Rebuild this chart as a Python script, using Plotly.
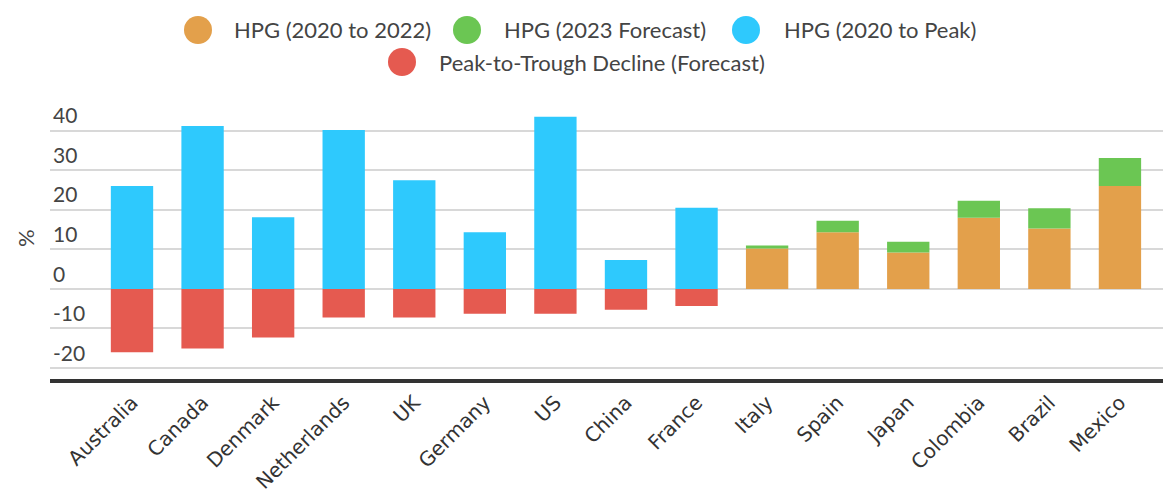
import plotly.graph_objects as go

# House price growth by country (%)
countries = ["Australia", "Canada", "Denmark", "Netherlands", "UK", "Germany", "US",
             "China", "France", "Italy", "Spain", "Japan", "Colombia", "Brazil", "Mexico"]
hpg_2020_to_peak = [26.0, 41.2, 18.1, 40.2, 27.5, 14.3, 43.5, 7.3, 20.5,
                    None, None, None, None, None, None]
peak_to_trough = [-16.0, -15.1, -12.3, -7.2, -7.2, -6.3, -6.3, -5.3, -4.3,
                  None, None, None, None, None, None]
hpg_2020_to_2022 = [None] * 9 + [10.2, 14.3, 9.2, 18.0, 15.3, 26.0]
hpg_2023_forecast = [None] * 9 + [0.8, 2.9, 2.7, 4.3, 5.1, 7.1]
y_ticks = [-20, -10, 0, 10, 20, 30, 40]
y_tick_labels = [str(v) for v in y_ticks]

ORANGE = "#E3A04B"
GREEN = "#6BC653"
BLUE = "#2EC9FD"
RED = "#E55A50"

series = [
    ("HPG (2020 to 2022)", hpg_2020_to_2022, ORANGE),
    ("HPG (2023 Forecast)", hpg_2023_forecast, GREEN),
    ("HPG (2020 to Peak)", hpg_2020_to_peak, BLUE),
    ("Peak-to-Trough Decline (Forecast)", peak_to_trough, RED),
]

W, H = 1163, 497
ML, MR, MT, MB = 50, 0, 90, 118
PW, PH = W - ML - MR, H - MT - MB


def px(x):
    return (x - ML) / PW


def py(y):
    return (H - MB - y) / PH


fig = go.Figure()
for name, vals, col in series:
    fig.add_trace(go.Bar(
        x=countries, y=vals, name=name, width=0.6,
        marker=dict(color=col, line=dict(width=0)),
        showlegend=False,
    ))

# Legend drawn as round swatches with labels, two centred rows
legend_layout = [
    # (series index, swatch centre x, text left x, row centre y)
    (0, 198, 232, 30),
    (1, 467, 502, 30),
    (2, 746, 782, 30),
    (3, 402, 437, 62),
]
shapes = []
annotations = []
for idx, cx, tx, cy in legend_layout:
    name, _, col = series[idx]
    shapes.append(dict(
        type="circle", xref="paper", yref="paper",
        xsizemode="pixel", ysizemode="pixel",
        xanchor=px(cx), yanchor=py(cy),
        x0=-14, x1=14, y0=-14, y1=14,
        fillcolor=col, line=dict(width=0), layer="above",
    ))
    annotations.append(dict(
        text=name, xref="paper", yref="paper", x=px(tx), y=py(cy),
        xanchor="left", yanchor="middle", showarrow=False,
        font=dict(family="Lato", size=22, color="#444444"),
    ))

annotations.append(dict(
    text="%", xref="paper", yref="paper", x=px(25), y=py(238),
    xanchor="center", yanchor="middle", showarrow=False, textangle=-90,
    font=dict(family="Lato", size=22, color="#444444"),
))

fig.update_layout(
    width=W, height=H,
    margin=dict(l=ML, r=MR, t=MT, b=MB, pad=0),
    barmode="relative",
    plot_bgcolor="white", paper_bgcolor="white",
    showlegend=False,
    shapes=shapes,
    annotations=annotations,
    xaxis=dict(
        range=[-1.162, 14.61],
        tickangle=-45,
        tickfont=dict(family="DejaVu Sans", size=20, color="#333333"),
        showgrid=False,
        showline=True, linecolor="#333333", linewidth=4,
        ticks="",
        fixedrange=True,
    ),
    yaxis=dict(
        range=[-22.78, 50.29],
        tickvals=y_ticks,
        ticktext=y_tick_labels,
        ticklabelposition="inside top",
        tickfont=dict(family="Lato", size=21, color="#444444"),
        showgrid=True, gridcolor="#d8d8d8", gridwidth=1.5,
        zeroline=True, zerolinecolor="#d8d8d8", zerolinewidth=1.5,
        showline=False, ticks="",
        fixedrange=True,
    ),
)

fig.write_html("out.html")
